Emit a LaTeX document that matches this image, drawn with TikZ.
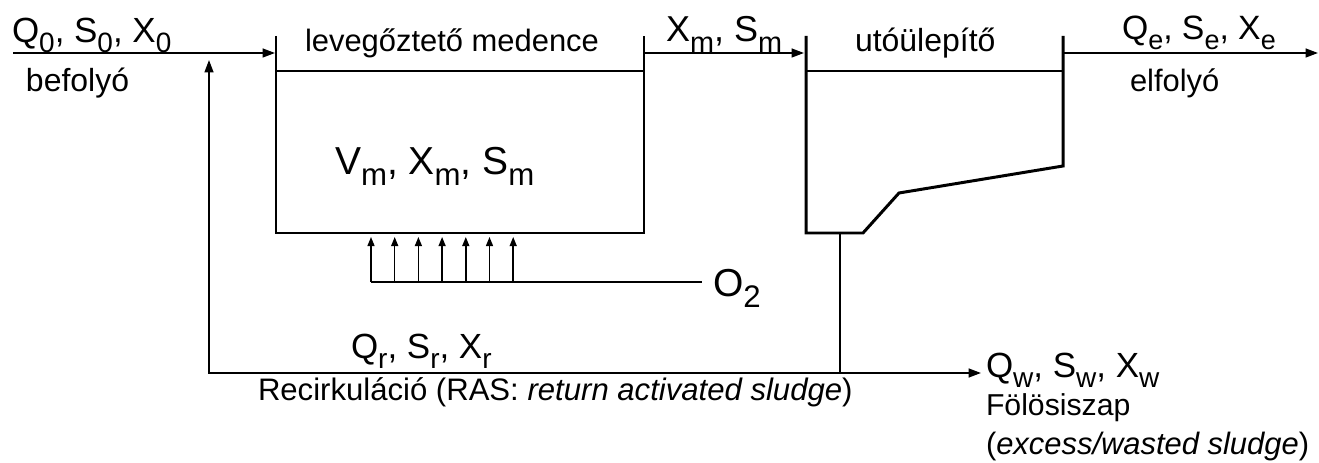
\documentclass[tikz,border=0pt]{standalone}
\usepackage{fontspec}
\setmainfont{Liberation Sans}
\usepackage{graphicx}
\usetikzlibrary{arrows.meta,calc}
\newcommand{\lowsub}[1]{\raisebox{-0.28em}{\scalebox{0.8}{#1}}}
\begin{document}
\begin{tikzpicture}[
    x=0.02cm, y=0.02cm,
    wall/.style={line width=1.7pt, line join=miter},
    pipe/.style={line width=1pt},
    flow/.style={-{Triangle[length=7pt,width=5pt]}, line width=1pt},
    air/.style={-{Triangle[length=5.2pt,width=4pt]}, line width=0.85pt},
    lbl/.style={anchor=base west, inner sep=0pt, outer sep=0pt},
    varlbl/.style={lbl, font=\fontsize{19.9}{24}\selectfont},
    biglbl/.style={lbl, font=\fontsize{22.2}{26}\selectfont},
    namelbl/.style={lbl, font=\fontsize{17.6}{21}\selectfont},
]
\useasboundingbox (0,0) rectangle (1319,463);

% === Aeration tank ===
\coordinate (aerTL) at (276,427);
\coordinate (aerBL) at (276,230);
\coordinate (aerBR) at (644,230);
\coordinate (aerTR) at (644,427);
\coordinate (aerWL) at (276,392);
\coordinate (aerWR) at (644,392);
\draw[wall] (aerTL) -- (aerBL) -- (aerBR) -- (aerTR);
\draw[pipe] (aerWL) -- (aerWR);

% === Secondary clarifier ===
\coordinate (setTL) at (806,427);
\coordinate (setBL) at (806,230);
\coordinate (setBM) at (863,230);
\coordinate (setK1) at (899,270);
\coordinate (setK2) at (1063,297);
\coordinate (setTR) at (1063,427);
\coordinate (setWL) at (806,392);
\coordinate (setWR) at (1063,392);
\draw[wall] (setTL) -- (setBL) -- (setBM) -- (setK1) -- (setK2) -- (setTR);
\draw[pipe] (setWL) -- (setWR);

% === Main flow ===
\coordinate (inflow) at (13,410);
\coordinate (aerIn) at (275,410);
\coordinate (aerOut) at (644,410);
\coordinate (setIn) at (804,410);
\coordinate (setOut) at (1063,410);
\coordinate (outflow) at (1318,410);
\draw[flow] (inflow) -- (aerIn);
\draw[flow] (aerOut) -- (setIn);
\draw[flow] (setOut) -- (outflow);

% === Sludge line: recirculation and waste ===
\coordinate (setDrain) at (840,230);
\coordinate (junc) at (840,90);
\coordinate (recCorner) at (209,90);
\coordinate (recIn) at (209,403);
\coordinate (waste) at (981,90);
\draw[pipe] (setDrain) -- (junc);
\draw[flow] (junc) -- (recCorner) -- (recIn);
\draw[flow] (junc) -- (waste);

% === Aeration ===
\coordinate (airL) at (371,181);
\coordinate (airR) at (702,181);
\draw[pipe, line width=0.85pt] (airL) -- (airR);
\foreach \i in {0,...,6}
    \draw[air] ($(airL)+(\i*23.7,0)$) -- ++(0,45);

% === Labels ===
\node[varlbl] (inlbl) at (12,420) {Q\lowsub{0}, S\lowsub{0}, X\lowsub{0}};
\node[namelbl, font=\fontsize{18.2}{22}\selectfont] (befolyo) at (26,371) {befolyó};
\node[namelbl] (aertitle) at (305,411) {levegőztető medence};
\node[varlbl, font=\fontsize{20.5}{24}\selectfont] (xmlbl) at (666,421) {X\lowsub{m}, S\lowsub{m}};
\node[namelbl, font=\fontsize{18.2}{22}\selectfont] (settitle) at (855,411) {utóülepítő};
\node[varlbl, font=\fontsize{19.2}{23}\selectfont] (outlbl) at (1122,423) {Q\lowsub{e}, S\lowsub{e}, X\lowsub{e}};
\node[namelbl] (elfolyo) at (1130,371) {elfolyó};
\node[biglbl] (tanklbl) at (335,288) {V\lowsub{m}, X\lowsub{m}, S\lowsub{m}};
\node[biglbl] (oxy) at (713,166) {O\lowsub{2}};
\node[varlbl] (reclbl) at (351,104) {Q\lowsub{r}, S\lowsub{r}, X\lowsub{r}};
\node[lbl, font=\fontsize{17.7}{21}\selectfont] (rastxt) at (258,62)
    {Recirkuláció (RAS: \textit{return activated sludge})};
\node[varlbl] (wastelbl) at (986,85) {Q\lowsub{w}, S\lowsub{w}, X\lowsub{w}};
\node[namelbl, font=\fontsize{17.2}{20}\selectfont] (folos) at (986,47) {Fölösiszap};
\node[namelbl] (excess) at (986,8) {(\textit{excess/wasted sludge})};

\end{tikzpicture}
\end{document}
